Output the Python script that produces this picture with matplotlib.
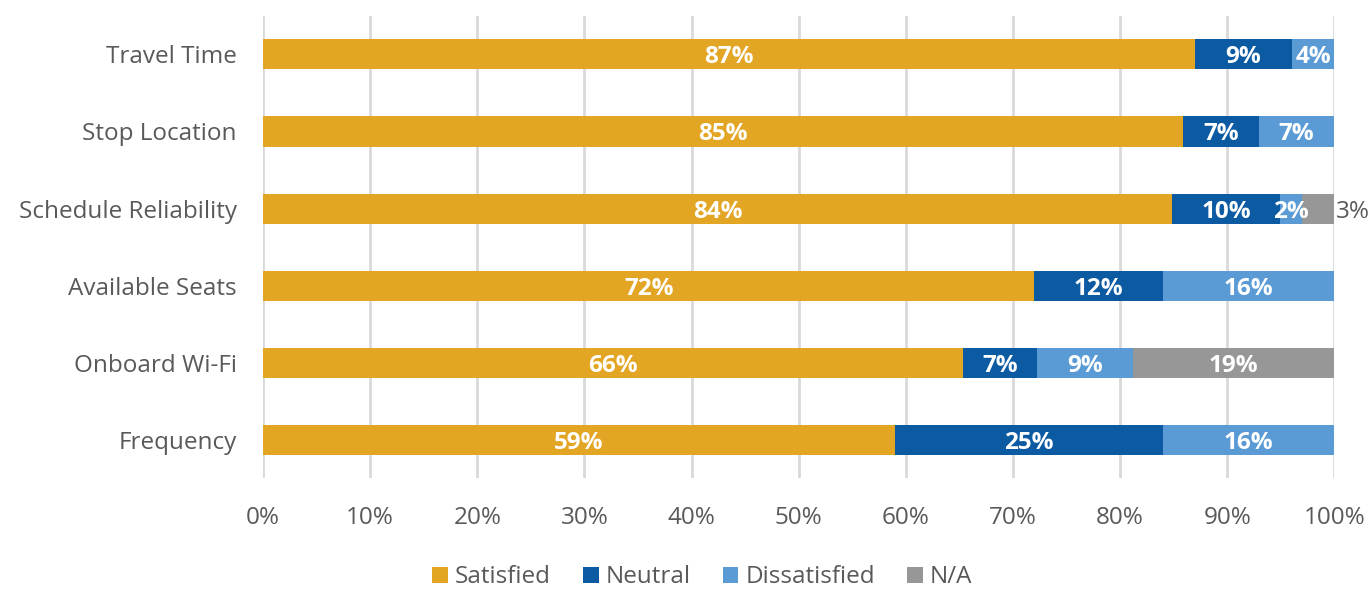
import matplotlib.pyplot as plt
import numpy as np
from matplotlib.ticker import PercentFormatter

plt.rcParams['font.family'] = ['Open Sans', 'DejaVu Sans']

# survey items, bottom to top as drawn
items = ['Frequency', 'Onboard Wi-Fi', 'Available Seats',
         'Schedule Reliability', 'Stop Location', 'Travel Time']
satisfied = [59, 66, 72, 84, 85, 87]
neutral = [25, 7, 12, 10, 7, 9]
dissatisfied = [16, 9, 16, 2, 7, 4]
not_applicable = [0, 19, 0, 3, 0, 0]

series = [('Satisfied', satisfied, '#E3A524'),
          ('Neutral', neutral, '#0B5AA2'),
          ('Dissatisfied', dissatisfied, '#5B9BD5'),
          ('N/A', not_applicable, '#979797')]

text_color = '#595959'

fig = plt.figure(figsize=(13.7, 5.89), dpi=100)
ax = fig.add_axes([0.192, 0.188, 0.782, 0.785])

# 100% stacked: normalise each row by its total
totals = np.sum([np.array(v, dtype=float) for _, v, _ in series], axis=0)
y = np.arange(len(items))
left = np.zeros(len(items))
for name, vals, color in series:
    vals = np.array(vals, dtype=float)
    width = vals / totals * 100
    ax.barh(y, width, left=left, height=0.39, color=color, label=name, zorder=3)
    for i, (v, w, l) in enumerate(zip(vals, width, left)):
        if v == 0:
            continue
        if name == 'N/A' and v < 5:
            ax.text(l + w + 0.1, y[i], f'{v:.0f}%', ha='left', va='center_baseline',
                    color=text_color, fontsize=17.5, zorder=4)
        else:
            ax.text(l + w / 2, y[i], f'{v:.0f}%', ha='center', va='center_baseline',
                    color='white', fontsize=17.5, fontweight='bold', zorder=4)
    left += width

ax.set_xlim(0, 100)
ax.set_ylim(-0.5, len(items) - 0.5)
ax.set_xticks(np.arange(0, 101, 10))
ax.xaxis.set_major_formatter(PercentFormatter(decimals=0))
ax.set_yticks(y)
ax.set_yticklabels(items)
ax.grid(axis='x', color='#D9D9D9', linewidth=2, zorder=0)
for s in ax.spines.values():
    s.set_visible(False)
ax.tick_params(length=0, labelsize=17.5, colors=text_color)
ax.tick_params(axis='x', pad=20)
ax.tick_params(axis='y', pad=19)

ax.legend(loc='center', bbox_to_anchor=(0.41, -0.214), ncol=4, frameon=False,
          fontsize=17.5, labelcolor=text_color, handlelength=0.65, handleheight=0.65,
          handletextpad=0.3, columnspacing=1.3)

fig.savefig('out.png', dpi=100)
